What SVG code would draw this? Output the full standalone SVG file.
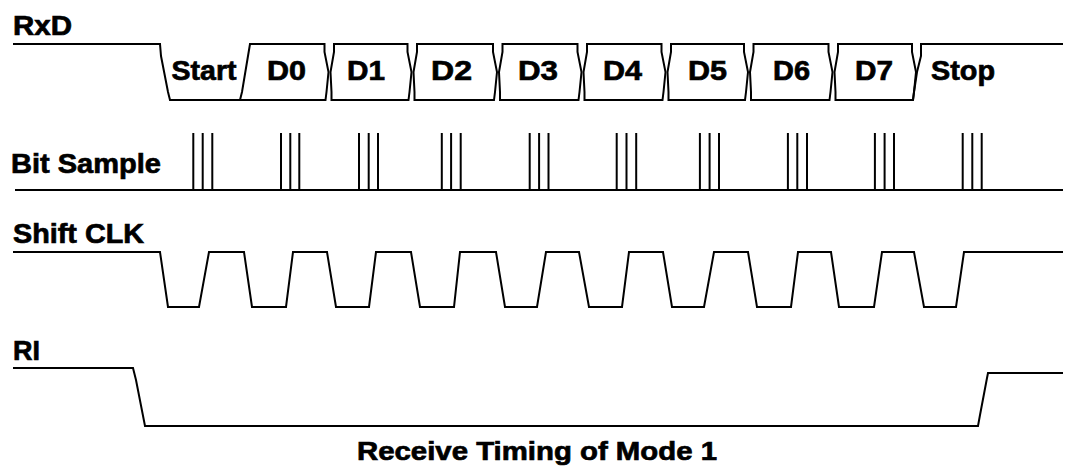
<svg xmlns="http://www.w3.org/2000/svg" width="1065" height="468" viewBox="0 0 1065 468">
<style>
.w{fill:none;stroke:#000;stroke-width:2;stroke-linejoin:miter}
.t{font-family:"Liberation Sans",Arial,sans-serif;font-weight:bold;font-size:28px;fill:#000;stroke:#000;stroke-width:0.7}
.tt{font-family:"Liberation Sans",Arial,sans-serif;font-weight:bold;font-size:26px;fill:#000;stroke:#000;stroke-width:0.7}
</style>
<rect width="1065" height="468" fill="#fff"/>
<g id="rxd">
<text class="t" x="13" y="35" textLength="59" lengthAdjust="spacingAndGlyphs">RxD</text>
<path class="w" d="M13,44 H160 L161,56 L168,92 L170,100 H240 L242,92 L248,56 L250,44 H324.5 L324.5,52 L328.5,72 L326.5,92 L325.5,100 H240"/>
<path class="w" d="M334,44 H407.5 L407.5,52 L411.5,72 L409.5,92 L408.5,100 H331.5 L331.5,92 L330.5,72 L334,52 Z"/>
<path class="w" d="M417,44 H493 L493,52 L497,72 L495,92 L494,100 H414.5 L414.5,92 L413.5,72 L417,52 Z"/>
<path class="w" d="M502.5,44 H577.5 L577.5,52 L581.5,72 L579.5,92 L578.5,100 H500 L500,92 L499,72 L502.5,52 Z"/>
<path class="w" d="M587,44 H661.5 L661.5,52 L665.5,72 L663.5,92 L662.5,100 H584.5 L584.5,92 L583.5,72 L587,52 Z"/>
<path class="w" d="M671,44 H744 L744,52 L748,72 L746,92 L745,100 H668.5 L668.5,92 L667.5,72 L671,52 Z"/>
<path class="w" d="M753.5,44 H828.5 L828.5,52 L832.5,72 L830.5,92 L829.5,100 H751 L751,92 L750,72 L753.5,52 Z"/>
<path class="w" d="M838,44 H912 L912,52 L916,72 L914,92 L913,100 H835.5 L835.5,92 L834.5,72 L838,52 Z"/>
<path class="w" d="M913,100 L914,92 L917,72 L921,56 L921,44 H1063"/>
<text class="t" x="171.5" y="80" textLength="65" lengthAdjust="spacingAndGlyphs">Start</text>
<text class="t" x="267" y="80" textLength="39" lengthAdjust="spacingAndGlyphs">D0</text>
<text class="t" x="347" y="80" textLength="38" lengthAdjust="spacingAndGlyphs">D1</text>
<text class="t" x="431" y="80" textLength="41" lengthAdjust="spacingAndGlyphs">D2</text>
<text class="t" x="518" y="80" textLength="40" lengthAdjust="spacingAndGlyphs">D3</text>
<text class="t" x="603" y="80" textLength="39" lengthAdjust="spacingAndGlyphs">D4</text>
<text class="t" x="688" y="80" textLength="39" lengthAdjust="spacingAndGlyphs">D5</text>
<text class="t" x="773" y="80" textLength="37" lengthAdjust="spacingAndGlyphs">D6</text>
<text class="t" x="855" y="80" textLength="38" lengthAdjust="spacingAndGlyphs">D7</text>
<text class="t" x="931" y="80" textLength="64" lengthAdjust="spacingAndGlyphs">Stop</text>
</g>
<g id="bit-sample">
<text class="t" x="11" y="173" textLength="150" lengthAdjust="spacingAndGlyphs">Bit Sample</text>
<path class="w" d="M15,190 H1063
M193.3,133 V190 M202.7,133 V190 M212.3,133 V190
M281,133 V190 M290.3,133 V190 M299.3,133 V190
M359,133 V190 M368.7,133 V190 M378,133 V190
M441.8,133 V190 M451.1,133 V190 M460.7,133 V190
M529.7,133 V190 M539.1,133 V190 M548.5,133 V190
M616.7,133 V190 M626.5,133 V190 M636.2,133 V190
M699.9,133 V190 M709.6,133 V190 M719,133 V190
M787.9,133 V190 M797.3,133 V190 M807,133 V190
M874.9,133 V190 M884.6,133 V190 M894,133 V190
M962.7,133 V190 M972.3,133 V190 M981.7,133 V190"/>
</g>
<g id="shift-clk">
<text class="t" x="13" y="243" textLength="131" lengthAdjust="spacingAndGlyphs">Shift CLK</text>
<path class="w" d="M13,252 H160 L168,307 H199 L209,252 H244 L252,307 H286 L293,252 H327 L336,307 H369 L376,252 H411 L420,307 H454 L460,252 H496 L505,307 H537 L546,252 H579 L589,307 H622 L629,252 H663 L672,307 H704 L714,252 H748 L757,307 H791 L798,252 H831 L839,307 H874 L882,252 H914 L924,307 H956 L964,252 H1063"/>
</g>
<g id="ri">
<text class="t" x="13" y="360" textLength="27" lengthAdjust="spacingAndGlyphs">RI</text>
<path class="w" d="M13,368 H133 L136,380 L145,426 H978 L980,415 L987,378 L988,373 H1063"/>
</g>
<g id="title">
<text class="tt" x="357" y="460" textLength="360" lengthAdjust="spacingAndGlyphs">Receive Timing of Mode 1</text>
</g>
</svg>
